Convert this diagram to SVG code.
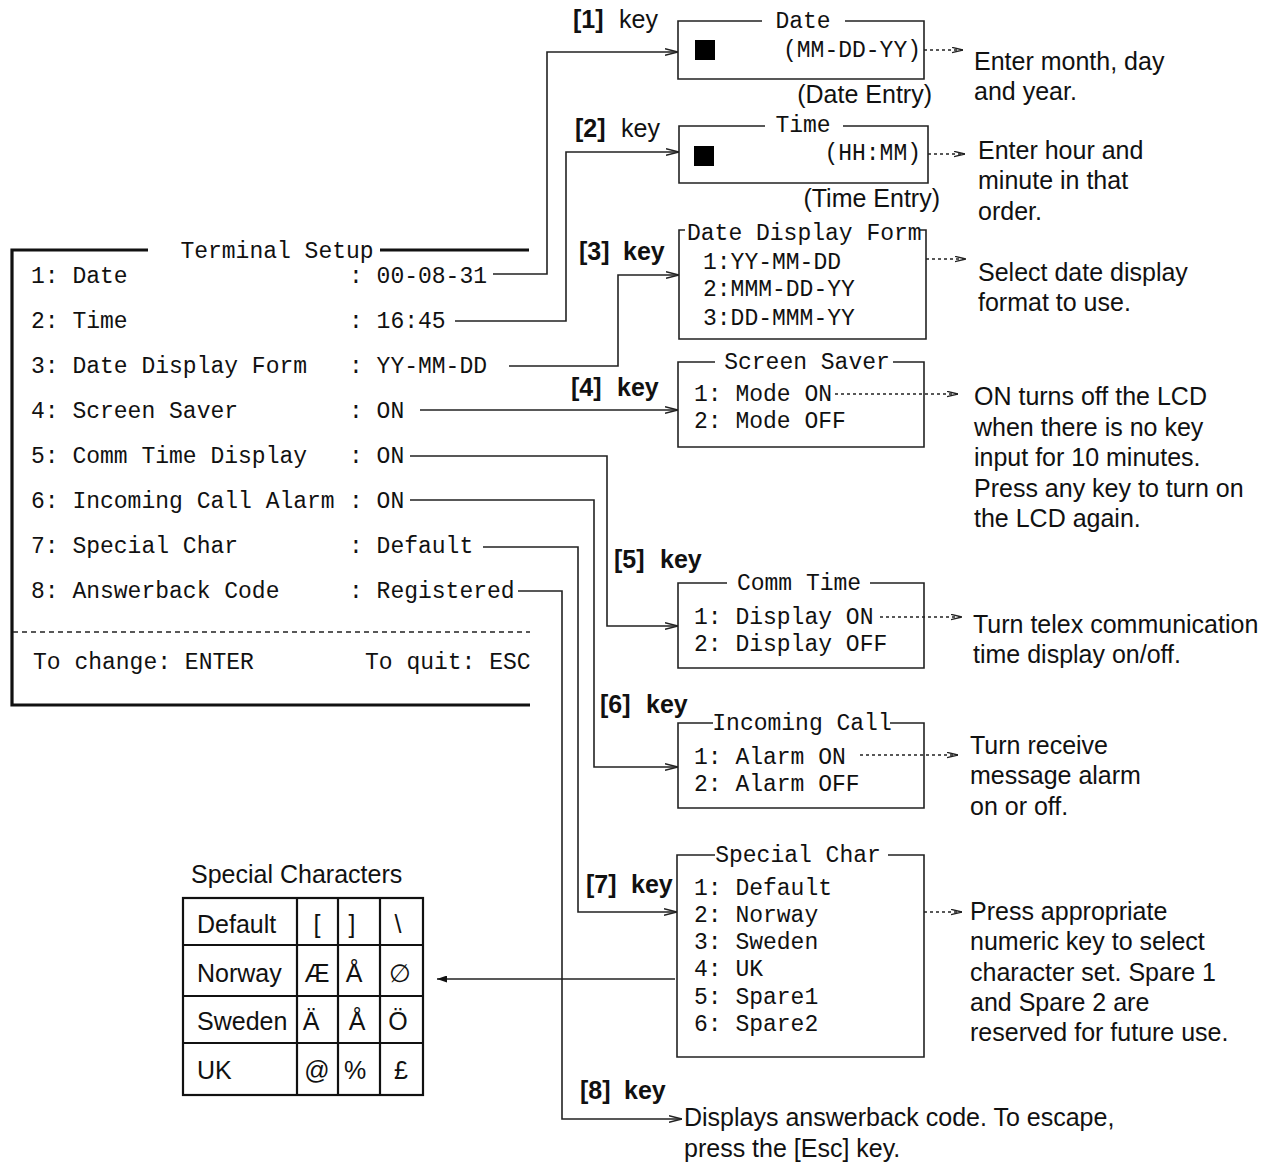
<svg xmlns="http://www.w3.org/2000/svg" width="1279" height="1162" viewBox="0 0 1279 1162">
<defs>
<style>
.m{font-family:"Liberation Mono","Courier New",monospace;font-size:23px;fill:#111}
.s{font-family:"Liberation Sans",Arial,sans-serif;font-size:25px;fill:#111}
.b{font-weight:bold}
.ln{fill:none;stroke:#222;stroke-width:1.6}
.dt{fill:none;stroke:#222;stroke-width:1.3;stroke-dasharray:3,3}
.bx{fill:none;stroke:#222;stroke-width:1.6}
.thk{fill:none;stroke:#111;stroke-width:3.2}
.tb{fill:none;stroke:#111;stroke-width:2.2}
</style>
<marker id="arr" viewBox="0 0 13 8" refX="13" refY="4" markerWidth="13" markerHeight="8" markerUnits="userSpaceOnUse" orient="auto">
<path d="M0,0.8 L13,4 L0,7.2" fill="none" stroke="#222" stroke-width="1.4"/>
</marker>
<marker id="arrd" viewBox="0 0 11 7" refX="11" refY="3.5" markerWidth="11" markerHeight="7" markerUnits="userSpaceOnUse" orient="auto">
<path d="M0,0.8 L11,3.5 L0,6.2" fill="none" stroke="#222" stroke-width="1.3"/>
</marker>
<marker id="arrf" viewBox="0 0 10 7" refX="10" refY="3.5" markerWidth="10" markerHeight="7" markerUnits="userSpaceOnUse" orient="auto">
<path d="M0,0 L10,3.5 L0,7 Z" fill="#111"/>
</marker>
</defs>
<rect width="1279" height="1162" fill="#fff"/>

<g id="terminal-setup">
<path class="thk" d="M148,250 H12 V705 H530"/>
<path class="thk" d="M380,250 H529"/>
<text class="m" x="277" y="258" text-anchor="middle">Terminal Setup</text>
<text class="m" x="31" y="283">1: Date</text><text class="m" x="349" y="283">: 00-08-31</text>
<text class="m" x="31" y="328">2: Time</text><text class="m" x="349" y="328">: 16:45</text>
<text class="m" x="31" y="373">3: Date Display Form</text><text class="m" x="349" y="373">: YY-MM-DD</text>
<text class="m" x="31" y="418">4: Screen Saver</text><text class="m" x="349" y="418">: ON</text>
<text class="m" x="31" y="463">5: Comm Time Display</text><text class="m" x="349" y="463">: ON</text>
<text class="m" x="31" y="508">6: Incoming Call Alarm</text><text class="m" x="349" y="508">: ON</text>
<text class="m" x="31" y="553">7: Special Char</text><text class="m" x="349" y="553">: Default</text>
<text class="m" x="31" y="598">8: Answerback Code</text><text class="m" x="349" y="598">: Registered</text>
<path d="M13,632 H530" fill="none" stroke="#222" stroke-width="1.4" stroke-dasharray="5,4"/>
<text class="m" x="33" y="669">To change: ENTER</text>
<text class="m" x="365" y="669">To quit: ESC</text>
</g>

<g id="date-box">
<path class="bx" d="M762,21 H678 V79 H924 V21 H845"/>
<text class="m" x="803" y="28" text-anchor="middle">Date</text>
<rect x="695" y="40" width="20" height="20" fill="#000"/>
<text class="m" x="921" y="57" text-anchor="end">(MM-DD-YY)</text>
<text class="s" x="932" y="103" text-anchor="end">(Date Entry)</text>
<text class="s b" x="573" y="28">[1]</text><text class="s" x="619" y="28">key</text>
</g>

<g id="time-box">
<path class="bx" d="M765,126 H679 V183 H928 V126 H843"/>
<text class="m" x="803" y="132" text-anchor="middle">Time</text>
<rect x="694" y="146" width="20" height="20" fill="#000"/>
<text class="m" x="921" y="160" text-anchor="end">(HH:MM)</text>
<text class="s" x="940" y="207" text-anchor="end">(Time Entry)</text>
<text class="s b" x="575" y="137">[2]</text><text class="s" x="621" y="137">key</text>
</g>

<g id="date-display-box">
<path class="bx" d="M685,230 H679 V339 H926 V230 H920"/>
<text class="m" x="687" y="240">Date Display Form</text>
<text class="m" x="703" y="269">1:YY-MM-DD</text>
<text class="m" x="703" y="296">2:MMM-DD-YY</text>
<text class="m" x="703" y="325">3:DD-MMM-YY</text>
<text class="s b" x="579" y="260">[3]</text><text class="s b" x="623" y="260">key</text>
</g>

<g id="screen-saver-box">
<path class="bx" d="M715,362 H678 V447 H924 V362 H893"/>
<text class="m" x="807" y="369" text-anchor="middle">Screen Saver</text>
<text class="m" x="694" y="401">1: Mode ON</text>
<text class="m" x="694" y="428">2: Mode OFF</text>
<text class="s b" x="571" y="396">[4]</text><text class="s b" x="617" y="396">key</text>
</g>

<g id="comm-time-box">
<path class="bx" d="M727,583 H678 V668 H924 V583 H870"/>
<text class="m" x="799" y="590" text-anchor="middle">Comm Time</text>
<text class="m" x="694" y="624">1: Display ON</text>
<text class="m" x="694" y="651">2: Display OFF</text>
<text class="s b" x="614" y="568">[5]</text><text class="s b" x="660" y="568">key</text>
</g>

<g id="incoming-call-box">
<path class="bx" d="M713,723 H678 V808 H924 V723 H890"/>
<text class="m" x="802" y="730" text-anchor="middle">Incoming Call</text>
<text class="m" x="694" y="764">1: Alarm ON</text>
<text class="m" x="694" y="791">2: Alarm OFF</text>
<text class="s b" x="600" y="713">[6]</text><text class="s b" x="646" y="713">key</text>
</g>

<g id="special-char-box">
<path class="bx" d="M715,855 H677 V1057 H924 V855 H888"/>
<text class="m" x="798" y="862" text-anchor="middle">Special Char</text>
<text class="m" x="694" y="895">1: Default</text>
<text class="m" x="694" y="922">2: Norway</text>
<text class="m" x="694" y="949">3: Sweden</text>
<text class="m" x="694" y="976">4: UK</text>
<text class="m" x="694" y="1004">5: Spare1</text>
<text class="m" x="694" y="1031">6: Spare2</text>
<text class="s b" x="586" y="893">[7]</text><text class="s b" x="631" y="893">key</text>
</g>

<g id="answerback">
<text class="s b" x="580" y="1099">[8]</text><text class="s b" x="624" y="1099">key</text>
<text class="s" x="684" y="1126">Displays answerback code. To escape,</text>
<text class="s" x="684" y="1157">press the [Esc] key.</text>
</g>

<g id="special-characters-table">
<text class="s" x="191" y="883">Special Characters</text>
<rect class="tb" x="183" y="898" width="240" height="197"/>
<path class="tb" d="M183,945 H423 M183,996 H423 M183,1043 H423 M297,898 V1095 M338,898 V1095 M380,898 V1095"/>
<text class="s" x="197" y="933">Default</text>
<text class="s" x="317" y="933" text-anchor="middle">[</text>
<text class="s" x="352" y="933" text-anchor="middle">]</text>
<text class="s" x="398" y="933" text-anchor="middle">\</text>
<text class="s" x="197" y="982">Norway</text>
<text class="s" x="317" y="982" text-anchor="middle">Æ</text>
<text class="s" x="354" y="982" text-anchor="middle">Å</text>
<text class="s" x="400" y="982" text-anchor="middle">∅</text>
<text class="s" x="197" y="1030">Sweden</text>
<text class="s" x="311" y="1030" text-anchor="middle">Ä</text>
<text class="s" x="357" y="1030" text-anchor="middle">Å</text>
<text class="s" x="398" y="1030" text-anchor="middle">Ö</text>
<text class="s" x="197" y="1079">UK</text>
<text class="s" x="317" y="1079" text-anchor="middle">@</text>
<text class="s" x="355" y="1079" text-anchor="middle">%</text>
<text class="s" x="401" y="1079" text-anchor="middle">£</text>
</g>

<g id="descriptions">
<text class="s" x="974" y="70">Enter month, day</text>
<text class="s" x="974" y="100">and year.</text>
<text class="s" x="978" y="159">Enter hour and</text>
<text class="s" x="978" y="189">minute in that</text>
<text class="s" x="978" y="220">order.</text>
<text class="s" x="978" y="281">Select date display</text>
<text class="s" x="978" y="311">format to use.</text>
<text class="s" x="974" y="405">ON turns off the LCD</text>
<text class="s" x="974" y="436">when there is no key</text>
<text class="s" x="974" y="466">input for 10 minutes.</text>
<text class="s" x="974" y="497">Press any key to turn on</text>
<text class="s" x="974" y="527">the LCD again.</text>
<text class="s" x="973" y="633">Turn telex communication</text>
<text class="s" x="973" y="663">time display on/off.</text>
<text class="s" x="970" y="754">Turn receive</text>
<text class="s" x="970" y="784">message alarm</text>
<text class="s" x="970" y="815">on or off.</text>
<text class="s" x="970" y="920">Press appropriate</text>
<text class="s" x="970" y="950">numeric key to select</text>
<text class="s" x="970" y="981">character set. Spare 1</text>
<text class="s" x="970" y="1011">and Spare 2 are</text>
<text class="s" x="970" y="1041">reserved for future use.</text>
</g>

<g id="connectors">
<path class="ln" marker-end="url(#arr)" d="M493,274 H547 V52 H678"/>
<path class="ln" marker-end="url(#arr)" d="M455,321 H566 V152 H679"/>
<path class="ln" marker-end="url(#arr)" d="M509,366 H618 V275 H679"/>
<path class="ln" marker-end="url(#arr)" d="M420,410 H678"/>
<path class="ln" marker-end="url(#arr)" d="M410,456 H607 V626 H678"/>
<path class="ln" marker-end="url(#arr)" d="M410,500 H594 V767 H678"/>
<path class="ln" marker-end="url(#arr)" d="M483,547 H578 V912 H677"/>
<path class="ln" marker-end="url(#arr)" d="M518,591 H562 V1119 H682"/>
<path class="ln" marker-end="url(#arrf)" d="M675,979 H437"/>
<path class="dt" marker-end="url(#arrd)" d="M924,50 H963"/>
<path class="dt" marker-end="url(#arrd)" d="M928,154 H965"/>
<path class="dt" marker-end="url(#arrd)" d="M926,259 H966"/>
<path class="dt" marker-end="url(#arrd)" d="M835,394 H958"/>
<path class="dt" marker-end="url(#arrd)" d="M880,617 H962"/>
<path class="dt" marker-end="url(#arrd)" d="M860,755 H958"/>
<path class="dt" marker-end="url(#arrd)" d="M924,912 H962"/>
</g>
</svg>
